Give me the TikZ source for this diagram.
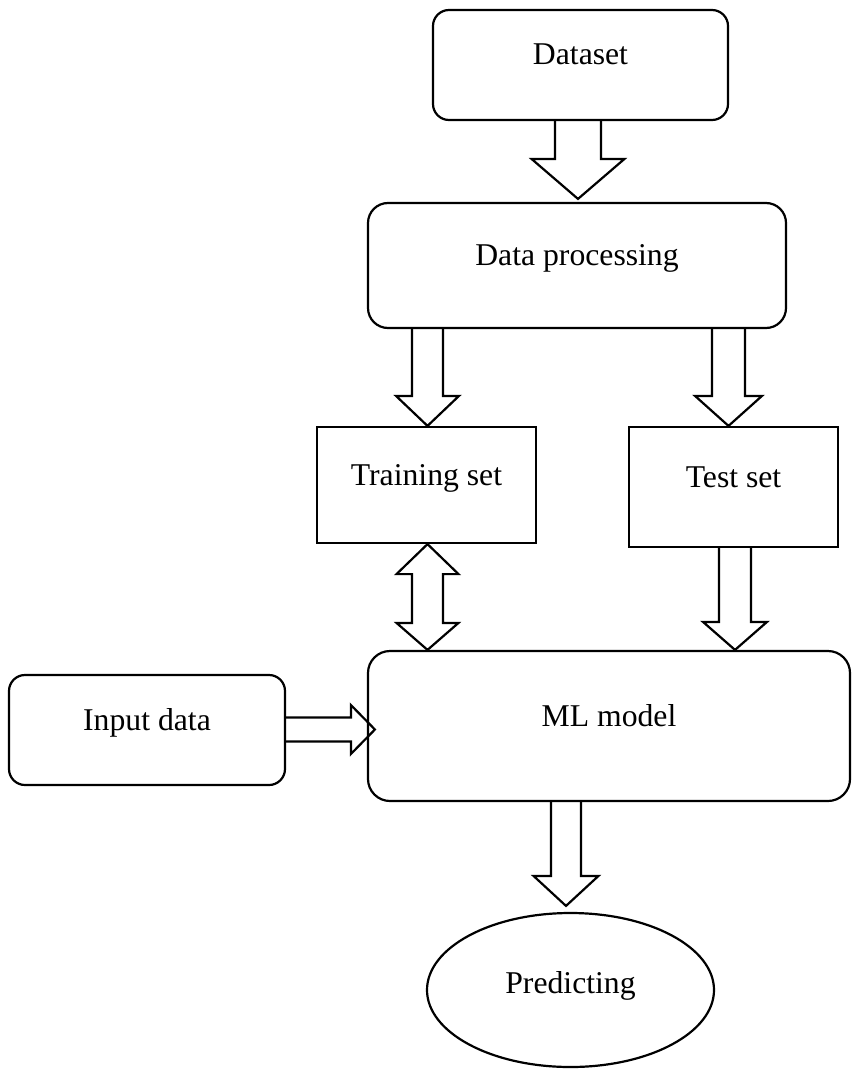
\documentclass[tikz,border=0pt]{standalone}
\usepackage{fontspec}
\setmainfont{Liberation Serif}
\usetikzlibrary{calc,shapes.geometric}

% vertical block arrow: cx, from, to, shaft half, head half, head length, gap before target
\newcommand\arrdown[7]{%
 \draw[blk] let \p1=(#2), \p2=(#3) in
  ({(#1-#4)*1pt},\y1) -- ({(#1-#4)*1pt},{\y2+(#6+#7)*1pt})
  -- ({(#1-#5)*1pt},{\y2+(#6+#7)*1pt}) -- ({#1*1pt},{\y2+#7*1pt})
  -- ({(#1+#5)*1pt},{\y2+(#6+#7)*1pt}) -- ({(#1+#4)*1pt},{\y2+(#6+#7)*1pt})
  -- ({(#1+#4)*1pt},\y1);}
% vertical double block arrow: cx, top node, bottom node, shaft half, head half, top len, bottom len
\newcommand\arrdbl[7]{%
 \draw[blk] let \p1=(#2), \p2=(#3) in
  ({#1*1pt},\y1) -- ({(#1+#5)*1pt},{\y1-#6*1pt}) -- ({(#1+#4)*1pt},{\y1-#6*1pt})
  -- ({(#1+#4)*1pt},{\y2+#7*1pt}) -- ({(#1+#5)*1pt},{\y2+#7*1pt}) -- ({#1*1pt},\y2)
  -- ({(#1-#5)*1pt},{\y2+#7*1pt}) -- ({(#1-#4)*1pt},{\y2+#7*1pt})
  -- ({(#1-#4)*1pt},{\y1-#6*1pt}) -- ({(#1-#5)*1pt},{\y1-#6*1pt}) -- cycle;}
% horizontal block arrow: cy, from, to, shaft half, head half, head length, overshoot
\newcommand\arrright[7]{%
 \draw[blk] let \p1=(#2), \p2=(#3) in
  (\x1,{-(#1-#4)*1pt}) -- ({\x2+(#7-#6)*1pt},{-(#1-#4)*1pt})
  -- ({\x2+(#7-#6)*1pt},{-(#1-#5)*1pt}) -- ({\x2+#7*1pt},{-#1*1pt})
  -- ({\x2+(#7-#6)*1pt},{-(#1+#5)*1pt}) -- ({\x2+(#7-#6)*1pt},{-(#1+#4)*1pt})
  -- (\x1,{-(#1+#4)*1pt});}

\begin{document}
\begin{tikzpicture}[x=1pt,y=-1pt,line width=2.2pt,
  every node/.style={font=\fontsize{31.7pt}{38pt}\selectfont, inner sep=0pt,
                     text height=10pt, text depth=10pt},
  rbox/.style={draw, rounded corners=#1},
  sbox/.style={draw},
  blk/.style={draw, line width=2.2pt, line join=miter}]
\useasboundingbox (0,0) rectangle (853,1070);

\node[rbox=16pt, minimum width=295pt, minimum height=110pt] (ds) at (580.5,65) {Dataset};
\node[rbox=20pt, minimum width=418pt, minimum height=125pt] (dp) at (577,265.5) {Data processing};
\node[sbox, minimum width=219pt, minimum height=116pt] (tr) at (426.5,485) {Training set};
\node[sbox, minimum width=209pt, minimum height=120pt] (te) at (733.5,487) {Test set};
\node[rbox=22pt, minimum width=482pt, minimum height=150pt] (ml) at (609,726) {ML model};
\node[rbox=16pt, minimum width=276pt, minimum height=110pt] (in) at (147,730) {Input data};
\node[draw, ellipse, minimum width=287pt, minimum height=154pt,
      text height=13pt, text depth=7pt] (pr) at (570.5,990) {Predicting};

\arrdown{578}{ds.south}{dp.north}{23}{46.5}{40}{3}
\arrdown{427.5}{dp.south}{tr.north}{15.5}{31.5}{30}{0}
\arrdown{728.5}{dp.south}{te.north}{16.5}{33.5}{30}{0}
\arrdbl{427.5}{tr.south}{ml.north}{15.5}{31}{30}{27}
\arrdown{735}{te.south}{ml.north}{16}{32}{28}{0}
\arrright{729.5}{in.east}{ml.west}{12}{24.5}{24}{8}
\arrdown{566}{ml.south}{pr.north}{15}{32.5}{30}{6}
\end{tikzpicture}
\end{document}
